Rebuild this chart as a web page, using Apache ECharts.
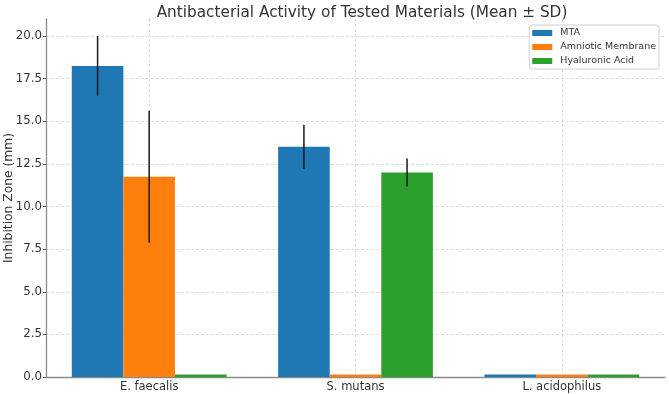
<!DOCTYPE html>
<html>
<head>
<meta charset="utf-8">
<script src="https://cdn.jsdelivr.net/npm/echarts@6/dist/echarts.min.js"></script>
<style>
  html, body { margin: 0; padding: 0; background: #fff; }
  #chart { width: 669px; height: 394px; }
</style>
</head>
<body>
<div id="chart"></div>
<script>
const categories = ['E. faecalis', 'S. mutans', 'L. acidophilus']
const seriesNames = ['MTA', 'Amniotic Membrane', 'Hyaluronic Acid']
const colors = ['#1f77b4', '#ff7f0e', '#2ca02c']

// mean and SD per category
const mtaMean = [18.25, 13.5, 0.15]
const mtaSd = [1.75, 1.3, 0]
const amMean = [11.75, 0.15, 0.15]
const amSd = [3.87, 0, 0]
const haMean = [0.15, 12.0, 0.15]
const haSd = [0, 0.82, 0]

const yTicks = [0, 2.5, 5, 7.5, 10, 12.5, 15, 17.5, 20]

const means = [mtaMean, amMean, haMean]
const sds = [mtaSd, amSd, haSd]
const offsets = [-0.25, 0, 0.25]

const font = 'DejaVu Sans'

function barSeries(i) {
  return {
    name: seriesNames[i],
    type: 'bar',
    data: means[i],
    barWidth: '25%',
    barGap: '0%',
    itemStyle: { color: colors[i] },
  }
}

function errorSeries(i) {
  const data = []
  means[i].forEach((m, k) => {
    if (sds[i][k] > 0) data.push([k, m, sds[i][k]])
  })
  return {
    type: 'custom',
    silent: true,
    z: 10,
    encode: { x: 0, y: 1 },
    data: data,
    renderItem(params, api) {
      const k = api.value(0)
      const m = api.value(1)
      const sd = api.value(2)
      const band = api.size([1, 0])[0]
      const top = api.coord([k, m + sd])
      const bottom = api.coord([k, m - sd])
      const x = top[0] + offsets[i] * band
      return {
        type: 'line',
        shape: { x1: x, y1: top[1], x2: x, y2: bottom[1] },
        style: { stroke: '#1a1a1a', lineWidth: 1.5 },
      }
    },
  }
}

const chart = echarts.init(document.getElementById('chart'), null, { renderer: 'canvas' })

const gridColor = '#d4d4d4'
const axisColor = '#8a8a8a'

chart.setOption({
  animation: false,
  textStyle: { fontFamily: font },
  title: {
    text: 'Antibacterial Activity of Tested Materials (Mean \u00b1 SD)',
    left: 357,
    textAlign: 'center',
    top: 1,
    textStyle: { fontFamily: font, fontSize: 15.3, fontWeight: 'normal', color: '#333' },
  },
  legend: {
    data: seriesNames,
    orient: 'vertical',
    right: 10,
    top: 25,
    icon: 'rect',
    itemWidth: 20,
    itemHeight: 6,
    itemGap: 4,
    padding: [3, 3, 3, 3],
    backgroundColor: '#fff',
    borderColor: '#d0d0d0',
    borderWidth: 1,
    borderRadius: 3,
    textStyle: { fontFamily: font, fontSize: 9.5, color: '#333', padding: [0, 0, 0, 3] },
  },
  grid: { left: 46, right: 4, top: 19, bottom: 17, outerBoundsMode: 'none' },
  xAxis: {
    type: 'category',
    data: categories,
    axisLine: { lineStyle: { color: axisColor, width: 1.3 } },
    axisTick: { alignWithLabel: true, length: 3, lineStyle: { color: '#555' } },
    axisLabel: { fontFamily: font, fontSize: 11.5, color: '#333', margin: 4 },
    splitLine: {
      show: true,
      alignWithLabel: true,
      lineStyle: { color: gridColor, type: [3, 2], width: 0.8 },
    },
  },
  yAxis: {
    type: 'value',
    min: 0,
    max: 21,
    interval: 2.5,
    name: 'Inhibition Zone (mm)',
    nameLocation: 'middle',
    nameGap: 31,
    nameMoveOverlap: false,
    nameTextStyle: { fontFamily: font, fontSize: 12.3, color: '#333' },
    axisLine: { show: true, lineStyle: { color: axisColor, width: 1.3 } },
    axisTick: { show: true, length: 3, lineStyle: { color: '#555' } },
    axisLabel: {
      fontFamily: font,
      fontSize: 11.8,
      color: '#333',
      margin: 4,
      showMaxLabel: false,
      formatter: (v) => (yTicks.includes(v) ? v.toFixed(1) : ''),
    },
    splitLine: {
      show: true,
      lineStyle: {
        color: yTicks.map(() => gridColor).concat(['rgba(0,0,0,0)']),
        type: [3, 2],
        width: 0.8,
      },
    },
  },
  series: [0, 1, 2].map(barSeries).concat([0, 1, 2].map(errorSeries)),
})
</script>
</body>
</html>
